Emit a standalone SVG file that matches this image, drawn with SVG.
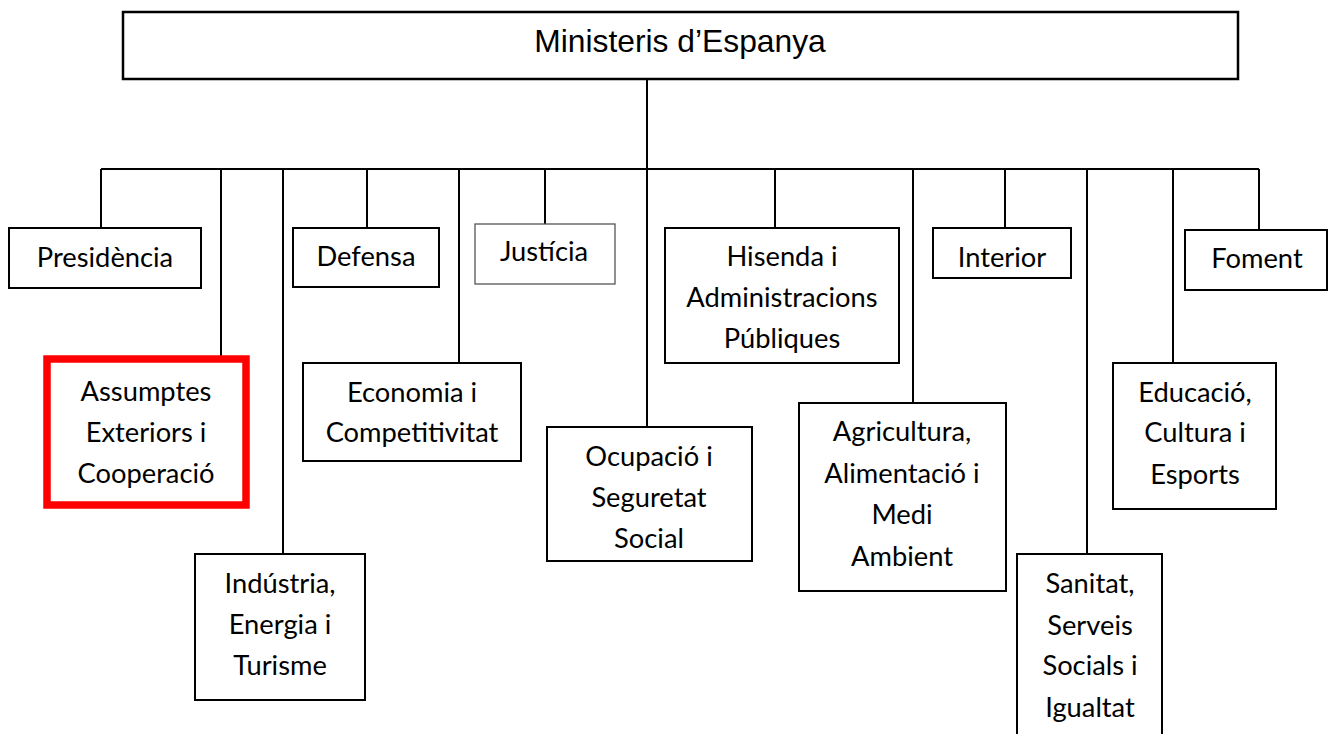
<svg xmlns="http://www.w3.org/2000/svg" width="1329" height="734" viewBox="0 0 1329 734">
<style>
.box{fill:#fff;stroke:#000;stroke-width:2}
.thin{fill:#fff;stroke:#555;stroke-width:1.3}
.red{fill:#fff;stroke:#ff0000;stroke-width:7.5}
.con{fill:none;stroke:#000;stroke-width:2}
.t{font-family:Lato,"Noto Sans",sans-serif;font-size:27.3px;fill:#000;text-anchor:middle}
.title{font-family:"Liberation Sans",Arial,sans-serif;font-size:31.8px;fill:#000;text-anchor:middle}
</style>
<rect width="1329" height="734" fill="#fff"/>
<g id="connectors">
<path class="con" d="M647 79V169M101 169H1259M101 169V228M221 169V359M283 169V554M367 169V228M459 169V363M545 169V224M647 169V427M775 169V228M913 169V403M1005 169V228M1087 169V554M1173 169V363M1259 169V230"/>
</g>
<g id="root"><rect x="123" y="12" width="1115" height="67" stroke-width="2.5" fill="#fff" stroke="#000"/><text class="title" x="680" y="52">Ministeris d’Espanya</text></g>
<g id="presidencia"><rect class="box" x="9" y="228" width="192" height="60"/><text class="t" x="105" y="267">Presidència</text></g>
<g id="defensa"><rect class="box" x="293" y="228" width="146" height="59"/><text class="t" x="366" y="266">Defensa</text></g>
<g id="justicia"><rect class="thin" x="475" y="224" width="140" height="60"/><text class="t" x="544" y="261">Justícia</text></g>
<g id="hisenda"><rect class="box" x="665" y="228" width="234" height="135"/><text class="t" x="782" y="266">Hisenda i</text><text class="t" x="782" y="307">Administracions</text><text class="t" x="782" y="348">Públiques</text></g>
<g id="interior"><rect class="box" x="933" y="228" width="138" height="50"/><text class="t" x="1002" y="267">Interior</text></g>
<g id="foment"><rect class="box" x="1185" y="230" width="142" height="60"/><text class="t" x="1257" y="268">Foment</text></g>
<g id="assumptes"><rect class="red" x="47" y="359" width="199" height="146"/><text class="t" x="146" y="401">Assumptes</text><text class="t" x="146" y="442">Exteriors i</text><text class="t" x="146" y="483">Cooperació</text></g>
<g id="economia"><rect class="box" x="303" y="363" width="218" height="98"/><text class="t" x="412" y="402">Economia i</text><text class="t" x="412" y="442">Competitivitat</text></g>
<g id="industria"><rect class="box" x="195" y="554" width="170" height="146"/><text class="t" x="280" y="593">Indústria,</text><text class="t" x="280" y="634">Energia i</text><text class="t" x="280" y="675">Turisme</text></g>
<g id="ocupacio"><rect class="box" x="547" y="427" width="205" height="134"/><text class="t" x="649" y="466">Ocupació i</text><text class="t" x="649" y="507">Seguretat</text><text class="t" x="649" y="548">Social</text></g>
<g id="agricultura"><rect class="box" x="799" y="403" width="207" height="188"/><text class="t" x="902" y="441">Agricultura,</text><text class="t" x="902" y="483">Alimentació i</text><text class="t" x="902" y="524">Medi</text><text class="t" x="902" y="566">Ambient</text></g>
<g id="educacio"><rect class="box" x="1113" y="363" width="163" height="146"/><text class="t" x="1195" y="402">Educació,</text><text class="t" x="1195" y="442">Cultura i</text><text class="t" x="1195" y="484">Esports</text></g>
<g id="sanitat"><rect class="box" x="1017" y="554" width="145" height="200"/><text class="t" x="1090" y="593">Sanitat,</text><text class="t" x="1090" y="635">Serveis</text><text class="t" x="1090" y="675">Socials i</text><text class="t" x="1090" y="717">Igualtat</text></g>
</svg>
